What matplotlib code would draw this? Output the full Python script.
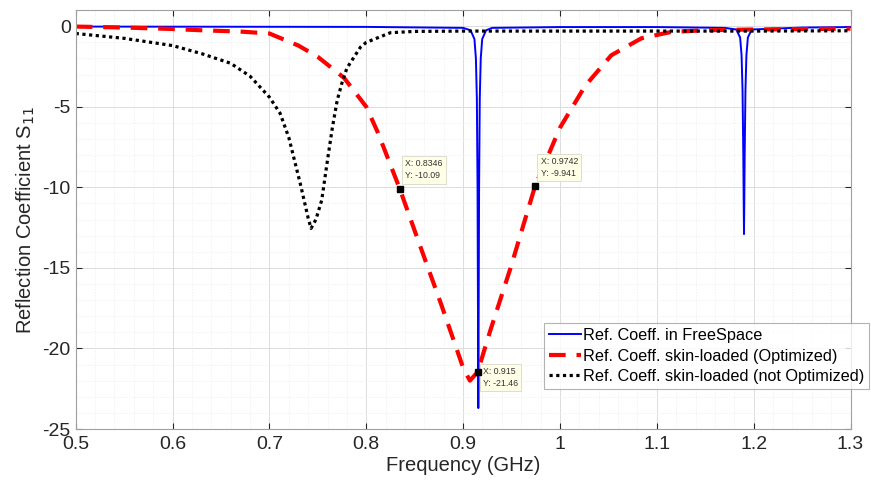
import numpy as np
import matplotlib
matplotlib.use("Agg")
import matplotlib.pyplot as plt
from matplotlib.ticker import MultipleLocator

plt.rcParams['font.family'] = ['Liberation Sans', 'DejaVu Sans']
plt.rcParams['axes.unicode_minus'] = False

# Ref. coeff. in free space (narrow resonances at 0.9157 and 1.19 GHz)
f_free = [0.5, 0.8, 0.9, 0.9077, 0.9117, 0.9132, 0.9142, 0.9149, 0.9153, 0.9157,
          0.9161, 0.9165, 0.9172, 0.9182, 0.9197, 0.9237, 0.93, 1.0, 1.1, 1.17,
          1.182, 1.186, 1.1875, 1.1885, 1.1893, 1.1897, 1.19, 1.1903, 1.1907,
          1.1915, 1.1925, 1.194, 1.198, 1.25, 1.3]
s_free = [-0.02, -0.04, -0.1, -0.25, -0.8, -2.0, -4.5, -10.0, -17.0, -23.7,
          -17.0, -10.0, -4.5, -2.0, -0.8, -0.25, -0.1, -0.05, -0.05, -0.1,
          -0.2, -0.7, -1.8, -4.0, -8.0, -11.0, -12.9, -11.0, -8.0,
          -4.0, -1.8, -0.7, -0.2, -0.08, -0.05]

# Ref. coeff. skin-loaded (optimized)
f_opt = [0.5, 0.55, 0.6, 0.63, 0.67, 0.70, 0.73, 0.75, 0.777, 0.80, 0.812,
         0.8346, 0.853, 0.877, 0.892, 0.900, 0.907, 0.915, 0.928, 0.949,
         0.9742, 1.0, 1.026, 1.053, 1.084, 1.115, 1.15, 1.2, 1.25, 1.3]
s_opt = [-0.02, -0.08, -0.17, -0.25, -0.33, -0.45, -1.2, -1.9, -3.2, -5.0, -6.6,
         -10.09, -13.2, -17.2, -19.8, -21.2, -22.0, -21.46, -18.9, -15.0,
         -9.941, -6.3, -3.7, -1.8, -0.75, -0.35, -0.25, -0.2, -0.18, -0.15]

# Ref. coeff. skin-loaded (not optimized)
f_not = [0.5, 0.55, 0.6, 0.63, 0.66, 0.68, 0.70, 0.711, 0.72, 0.732, 0.74,
         0.743, 0.748, 0.754, 0.76, 0.765, 0.77, 0.775, 0.78, 0.794, 0.80,
         0.825, 0.85, 0.9, 1.0, 1.1, 1.2, 1.3]
s_not = [-0.45, -0.75, -1.2, -1.7, -2.3, -3.1, -4.4, -5.4, -6.9, -9.8, -11.9,
         -12.55, -12.0, -10.8, -8.3, -6.3, -4.6, -3.5, -2.6, -1.3, -1.0,
         -0.4, -0.32, -0.3, -0.3, -0.3, -0.3, -0.28]

# data tips
tip_f = [0.8346, 0.9742, 0.915]
tip_s = [-10.09, -9.941, -21.46]

fig = plt.figure(figsize=(8.71, 4.83), dpi=100)
ax = fig.add_axes([0.0869, 0.1118, 0.8896, 0.8672])

ax.plot(f_free, s_free, color='#0000ff', lw=1.4,
        label='Ref. Coeff. in FreeSpace')
ax.plot(f_opt, s_opt, color='#ff0000', lw=3, dashes=(4, 2.6),
        label='Ref. Coeff. skin-loaded (Optimized)')
ax.plot(f_not, s_not, color='black', lw=2.3, dashes=(1, 1.1),
        label='Ref. Coeff. skin-loaded (not Optimized)')

ax.plot(tip_f, tip_s, 's', color='black', ms=4.5, zorder=5)
offsets = [(4, 6), (4, 6), (4, -4)]
for xf, ys, off in zip(tip_f, tip_s, offsets):
    ax.annotate(f"X: {xf:g}\nY: {ys:g}", xy=(xf, ys), xytext=off,
                textcoords='offset points', fontsize=6.3, ha='left',
                va='bottom' if off[1] > 0 else 'center', color='#333333',
                linespacing=1.5,
                bbox=dict(boxstyle='square,pad=0.35', fc='#ffffe8',
                          ec='#d8d8c8', lw=0.6))

ax.set_xlim(0.5, 1.3)
ax.set_ylim(-25, 1)
ax.xaxis.set_major_locator(MultipleLocator(0.1))
ax.xaxis.set_minor_locator(MultipleLocator(0.02))
ax.yaxis.set_major_locator(MultipleLocator(5))
ax.yaxis.set_minor_locator(MultipleLocator(1))
ax.set_xticks(np.arange(0.5, 1.31, 0.1))
ax.set_xticklabels([f"{v:g}" for v in np.round(np.arange(0.5, 1.31, 0.1), 1)])
ax.grid(which='major', color='#dcdcdc', lw=0.7)
ax.grid(which='minor', color='#ececec', lw=0.5, ls=(0, (2, 2)))
ax.set_axisbelow(True)
ax.tick_params(which='both', direction='in', top=True, right=True,
               labelsize=14, colors='#262626', length=4)
ax.tick_params(axis='x', pad=5)
ax.tick_params(which='minor', length=0)
for sp in ax.spines.values():
    sp.set_color('#a0a0a0')

ax.set_xlabel('Frequency (GHz)', fontsize=14.5, color='#262626', labelpad=2)
ax.set_ylabel('Reflection Coefficient S$_{11}$', fontsize=14.5, color='#262626',
              labelpad=4)

leg = ax.legend(loc='lower left', bbox_to_anchor=(0.6246, 0.1946),
                bbox_transform=fig.transFigure, fontsize=11.7, frameon=True,
                fancybox=False, borderaxespad=0, handlelength=2.0,
                handletextpad=0.1, labelspacing=0.34, borderpad=0.3)
leg.get_frame().set_edgecolor('#a0a0a0')
leg.get_frame().set_linewidth(0.8)

fig.savefig('out.png', dpi=100)
